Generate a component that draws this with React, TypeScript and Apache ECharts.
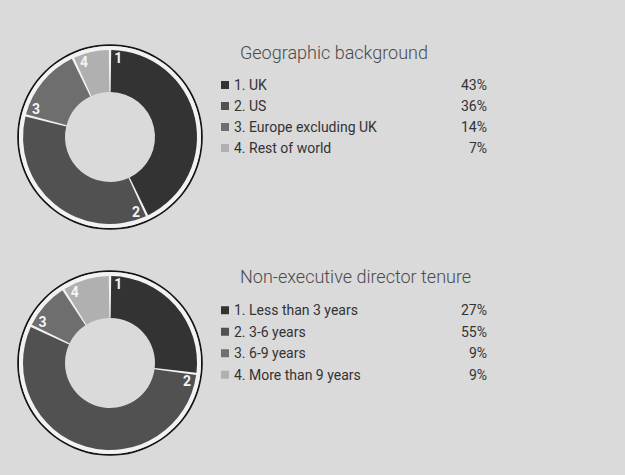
import React, { useEffect, useRef } from "react";
import * as echarts from "echarts";

const geoTitle = "Geographic background";
const geoCategories = ["UK", "US", "Europe excluding UK", "Rest of world"];
const geoValues = [43, 36, 14, 7];

const tenureTitle = "Non-executive director tenure";
const tenureCategories = ["Less than 3 years", "3-6 years", "6-9 years", "More than 9 years"];
const tenureValues = [27, 55, 9, 9];

const segmentColors = ["#333333", "#515151", "#6e6e6e", "#b0b0b0"];
const FONT = "Roboto, 'Liberation Sans', sans-serif";

function names(cats: string[]) {
  return cats.map((c, i) => `${i + 1}. ${c}`);
}

function makeLabelLayout(values: number[], cx: number, cy: number, r: number, offsetDeg: number) {
  const total = values.reduce((a, b) => a + b, 0);
  return (params: any) => {
    const i = params.dataIndex;
    let cum = 0;
    for (let k = 0; k < i; k++) cum += values[k];
    const ang = ((cum / total) * 360 + offsetDeg) * (Math.PI / 180);
    return {
      x: cx + r * Math.sin(ang),
      y: cy - r * Math.cos(ang),
      align: "center",
      verticalAlign: "middle",
    };
  };
}

function pieBlock(cats: string[], values: number[], cx: number, cy: number) {
  const nm = names(cats);
  return [
    {
      type: "pie",
      silent: true,
      legendHoverLink: false,
      center: [cx, cy],
      radius: [91, 92.8],
      startAngle: 90,
      label: { show: false },
      labelLine: { show: false },
      itemStyle: { color: "#151515" },
      data: [{ value: 1, name: "__outline" + cy }],
      emphasis: { disabled: true },
    },
    {
      type: "pie",
      silent: true,
      legendHoverLink: false,
      center: [cx, cy],
      radius: [46, 91],
      startAngle: 90,
      label: { show: false },
      labelLine: { show: false },
      itemStyle: { color: "#f2f2f2" },
      data: [{ value: 1, name: "__under" + cy }],
      emphasis: { disabled: true },
    },
    {
      type: "pie",
      silent: true,
      center: [cx, cy],
      radius: [45, 87],
      startAngle: 90,
      clockwise: true,
      padAngle: 1.6,
      avoidLabelOverlap: false,
      label: {
        show: true,
        position: "inside",
        formatter: (p: any) => String(p.dataIndex + 1),
        color: "#f4f4f4",
        fontFamily: FONT,
        fontWeight: "bold",
        fontSize: 14,
      },
      labelLine: { show: false },
      labelLayout: makeLabelLayout(values, cx, cy, 79, 6),
      emphasis: { disabled: true },
      data: values.map((v, i) => ({
        name: nm[i],
        value: v,
        itemStyle: { color: segmentColors[i] },
      })),
    },
  ];
}

function legendBlock(cats: string[], values: number[], top: number, lineH: number) {
  const nm = names(cats);
  const map: Record<string, number> = {};
  nm.forEach((n, i) => (map[n] = values[i]));
  const fs = 14;
  return {
    orient: "vertical",
    left: 221,
    top,
    padding: 0,
    data: nm,
    icon: "rect",
    itemWidth: 8,
    itemHeight: 8,
    itemGap: 0,
    selectedMode: false,
    formatter: (name: string) => `{n|${name}}{v|${map[name]}%}`,
    textStyle: {
      color: "#333333",
      fontFamily: FONT,
      fontSize: fs,
      lineHeight: lineH,
      rich: {
        n: { width: 221, color: "#333333", fontFamily: FONT, fontSize: fs, lineHeight: lineH },
        v: { width: 32, align: "right", color: "#333333", fontFamily: FONT, fontSize: fs, lineHeight: lineH },
      },
    },
  };
}

export default function App() {
  const ref = useRef<HTMLDivElement>(null);
  useEffect(() => {
    document.body.style.margin = "0";
    if (!ref.current) return;
    const chart = echarts.init(ref.current, null, { renderer: "svg" });
    const titleStyle = { color: "#4a4a4a", fontFamily: FONT, fontWeight: 300, fontSize: 18, lineHeight: 22 };
    const option: any = {
      animation: false,
      backgroundColor: "#dadada",
      title: [
        { text: geoTitle, left: 240, top: 41, padding: 0, textStyle: titleStyle },
        { text: tenureTitle, left: 240, top: 265, padding: 0, textStyle: titleStyle },
      ],
      legend: [
        legendBlock(geoCategories, geoValues, 74.5, 21),
        legendBlock(tenureCategories, tenureValues, 299.5, 21.5),
      ],
      series: [
        ...pieBlock(geoCategories, geoValues, 110, 137),
        ...pieBlock(tenureCategories, tenureValues, 110, 363),
      ],
    };
    chart.setOption(option);
    return () => chart.dispose();
  }, []);
  return <div ref={ref} style={{ width: 625, height: 475 }} />;
}
